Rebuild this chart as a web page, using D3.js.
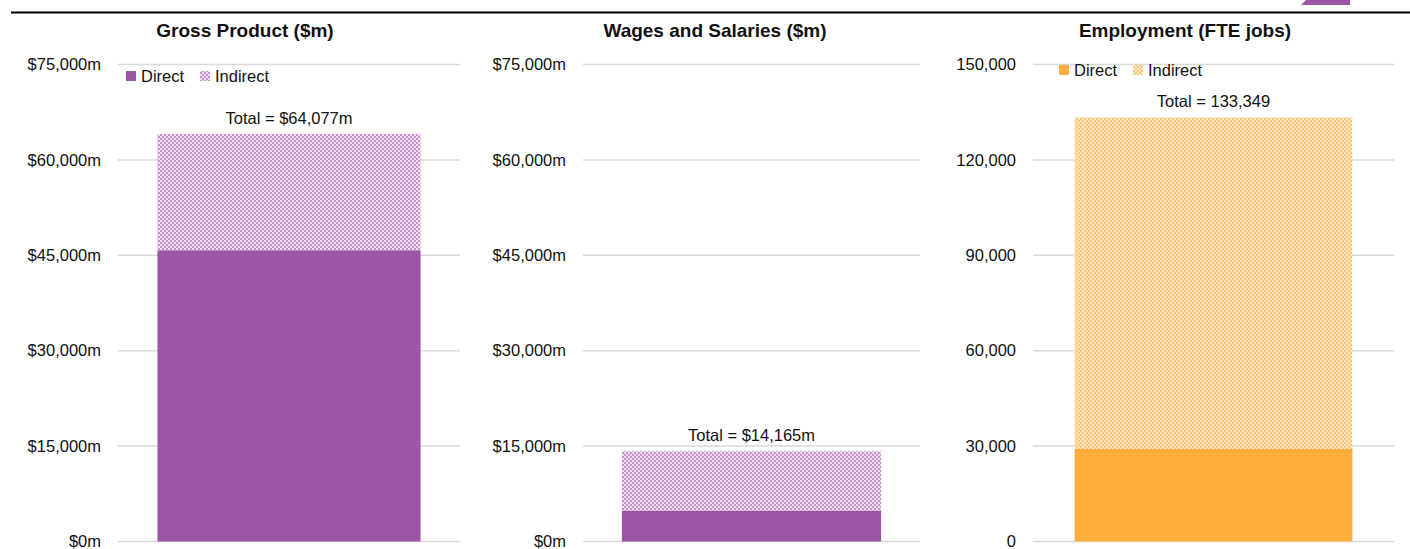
<!DOCTYPE html>
<html><head><meta charset="utf-8">
<script src="https://cdn.jsdelivr.net/npm/d3@7"></script>
<style>
body{margin:0;background:#fff;}
svg text{font-family:"Liberation Sans Narrow","Arial Narrow","Liberation Sans",sans-serif;fill:#111;}
</style></head>
<body>
<svg id="c" width="1410" height="549"></svg>
<script>
const panelTitles = ["Gross Product ($m)", "Wages and Salaries ($m)", "Employment (FTE jobs)"];
const directValues = [45800, 4850, 29100];
const totalValues = [64077, 14165, 133349];
const totalLabels = ["Total = $64,077m", "Total = $14,165m", "Total = 133,349"];
const yMax = [75000, 75000, 150000];
const yTicks = [[0,15000,30000,45000,60000,75000],[0,15000,30000,45000,60000,75000],[0,30000,60000,90000,120000,150000]];
const seriesNames = ["Direct", "Indirect"];

const svg = d3.select("#c");
const defs = svg.append("defs");
function makePattern(id, base, dot){
  const p = defs.append("pattern").attr("id", id).attr("patternUnits","userSpaceOnUse").attr("width",4).attr("height",4);
  p.append("rect").attr("width",4).attr("height",4).attr("fill",base);
  p.append("rect").attr("x",0).attr("y",0).attr("width",2).attr("height",2).attr("fill",dot);
  p.append("rect").attr("x",2).attr("y",2).attr("width",2).attr("height",2).attr("fill",dot);
}
makePattern("pPurple", "#c893cf", "#f0dff1");
makePattern("pOrange", "#ffc578", "#ffe6c4");

const colors = [
  {solid:"#9b55a5", pat:"url(#pPurple)"},
  {solid:"#9b55a5", pat:"url(#pPurple)"},
  {solid:"#ffad3b", pat:"url(#pOrange)"}
];
const layout = [
  {x0:118, x1:460, labelX:101, titleX:245, legend:{x:126,y:76}},
  {x0:583, x1:920, labelX:566, titleX:715, legend:null},
  {x0:1033, x1:1394, labelX:1016, titleX:1185, legend:{x:1059,y:70}}
];
const yTop = 64.5, yBot = 541.5;

// top rule and logo fragment
svg.append("line").attr("x1",11).attr("x2",1410).attr("y1",12.5).attr("y2",12.5).attr("stroke","#000").attr("stroke-width",2.2);
svg.append("polygon").attr("points","1306,0 1350,0 1350,5 1301,5").attr("fill","#9b55a5");

panelTitles.forEach((t,i)=>{
  const L = layout[i];
  const g = svg.append("g");
  const y = d3.scaleLinear().domain([0,yMax[i]]).range([yBot,yTop]);
  const x = d3.scaleBand().domain([t]).range([L.x0,L.x1]).paddingInner(0).paddingOuter(0.15);
  const fmt = i<2 ? (v=>"$"+d3.format(",")(v)+"m") : (v=>d3.format(",")(v));

  // gridlines
  g.selectAll(".grid").data(yTicks[i]).join("line")
    .attr("x1",L.x0).attr("x2",L.x1).attr("y1",d=>y(d)).attr("y2",d=>y(d))
    .attr("stroke","#d9d9d9").attr("stroke-width",1.5);
  // tick labels
  g.selectAll(".tl").data(yTicks[i]).join("text")
    .attr("x",L.labelX).attr("y",d=>y(d)).attr("dy","0.35em")
    .attr("text-anchor","end").attr("font-size",16.5).text(fmt);

  // bars
  const stack = [
    {key:seriesNames[0], y0:0, y1:directValues[i], fill:colors[i].solid},
    {key:seriesNames[1], y0:directValues[i], y1:totalValues[i], fill:colors[i].pat}
  ];
  g.selectAll(".bar").data(stack).join("rect")
    .attr("x",x(t)).attr("width",x.bandwidth())
    .attr("y",d=>y(d.y1)).attr("height",d=>y(d.y0)-y(d.y1))
    .attr("fill",d=>d.fill);

  // total label
  g.append("text").attr("x",x(t)+x.bandwidth()/2).attr("y",y(totalValues[i])-10)
    .attr("text-anchor","middle").attr("font-size",16.5).text(totalLabels[i]);

  // title
  g.append("text").attr("x",L.titleX).attr("y",37).attr("text-anchor","middle")
    .attr("font-size",19).attr("font-weight","bold").text(t);

  // legend
  if(L.legend){
    const lg = g.append("g").attr("transform",`translate(${L.legend.x},${L.legend.y})`);
    const items = [{n:seriesNames[0], f:colors[i].solid, dx:0},{n:seriesNames[1], f:colors[i].pat, dx:74}];
    items.forEach(it=>{
      lg.append("rect").attr("x",it.dx).attr("y",-5).attr("width",10).attr("height",10).attr("fill",it.f);
      lg.append("text").attr("x",it.dx+15).attr("y",0).attr("dy","0.35em").attr("font-size",16.5).text(it.n);
    });
  }
});
</script>
</body></html>
